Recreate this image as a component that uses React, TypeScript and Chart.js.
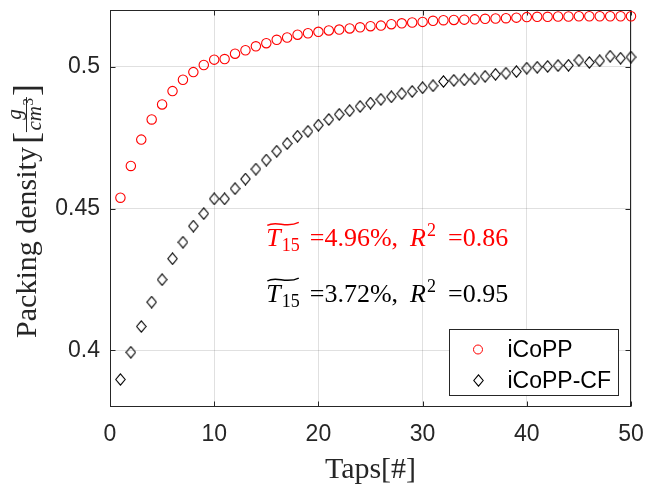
import React, { useEffect, useRef } from "react";
import { Chart, registerables } from "chart.js";
Chart.register(...registerables);

const taps = [1,2,3,4,5,6,7,8,9,10,11,12,13,14,15,16,17,18,19,20,21,22,23,24,25,26,27,28,29,30,31,32,33,34,35,36,37,38,39,40,41,42,43,44,45,46,47,48,49,50];
const icopp = [0.4538,0.4650,0.4743,0.4814,0.4867,0.4914,0.4954,0.4981,0.5006,0.5025,0.5027,0.5046,0.5058,0.5072,0.5083,0.5095,0.5103,0.5113,0.5118,0.5123,0.5128,0.5131,0.5135,0.5139,0.5143,0.5145,0.5150,0.5153,0.5156,0.5158,0.5162,0.5164,0.5165,0.5166,0.5167,0.5169,0.5170,0.5171,0.5173,0.5175,0.5176,0.5176,0.5177,0.5177,0.5178,0.5178,0.5178,0.5178,0.5178,0.5178];
const icoppCF = [0.3897,0.3993,0.4084,0.4170,0.4249,0.4323,0.4381,0.4438,0.4482,0.4534,0.4534,0.4570,0.4604,0.4639,0.4671,0.4702,0.4729,0.4755,0.4772,0.4794,0.4814,0.4832,0.4845,0.4860,0.4872,0.4885,0.4894,0.4905,0.4913,0.4926,0.4933,0.4948,0.4952,0.4954,0.4957,0.4966,0.4973,0.4977,0.4983,0.4995,0.4998,0.5001,0.5004,0.5005,0.5023,0.5015,0.5021,0.5037,0.5030,0.5034];
const xTicks = [0, 10, 20, 30, 40, 50];
const yTicks = [0.4, 0.45, 0.5];
const seriesNames = ["iCoPP", "iCoPP-CF"];
const t15Values = ["4.96", "3.72"];
const r2Values = ["0.86", "0.95"];

const AX = "#262626";
const SERIF = '"Liberation Serif", serif';
const SANS = '"Liberation Sans", Arial, sans-serif';

function makeDiamond(): HTMLCanvasElement {
  const c = document.createElement("canvas");
  c.width = 11;
  c.height = 13;
  const g = c.getContext("2d")!;
  g.strokeStyle = "#000";
  g.lineWidth = 1.1;
  g.beginPath();
  g.moveTo(5.5, 0.8);
  g.lineTo(10.2, 6.5);
  g.lineTo(5.5, 12.2);
  g.lineTo(0.8, 6.5);
  g.closePath();
  g.stroke();
  return c;
}

function drawAnnotation(ctx: CanvasRenderingContext2D, x: number, y: number, color: string, t: string, r2: string) {
  ctx.save();
  ctx.fillStyle = color;
  ctx.strokeStyle = color;
  ctx.textAlign = "left";
  ctx.textBaseline = "alphabetic";
  let cx = x;
  ctx.font = `italic 26px ${SERIF}`;
  ctx.fillText("T", cx, y);
  const tStart = cx;
  cx += ctx.measureText("T").width;
  ctx.font = `18px ${SERIF}`;
  ctx.fillText("15", cx + 1, y + 5);
  cx += ctx.measureText("15").width + 1;
  const tx0 = tStart + 1, tx1 = cx - 1, ty = y - 22;
  ctx.lineWidth = 1.4;
  ctx.beginPath();
  ctx.moveTo(tx0, ty + 1.5);
  ctx.bezierCurveTo(tx0 + (tx1 - tx0) * 0.3, ty - 4, tx0 + (tx1 - tx0) * 0.6, ty + 5, tx1, ty - 1.5);
  ctx.stroke();
  cx += 10;
  ctx.font = `26px ${SERIF}`;
  ctx.fillText("=", cx, y);
  cx += ctx.measureText("=").width;
  const s1 = `${t}%,`;
  ctx.fillText(s1, cx, y);
  cx += ctx.measureText(s1).width + 12;
  ctx.font = `italic 26px ${SERIF}`;
  ctx.fillText("R", cx, y);
  cx += ctx.measureText("R").width;
  ctx.font = `18px ${SERIF}`;
  ctx.fillText("2", cx + 1, y - 10);
  cx += ctx.measureText("2").width + 13;
  ctx.font = `26px ${SERIF}`;
  ctx.fillText("=", cx, y);
  cx += ctx.measureText("=").width;
  ctx.fillText(r2, cx, y);
  ctx.restore();
}

function drawYLabel(ctx: CanvasRenderingContext2D, bx: number, cy: number) {
  ctx.save();
  ctx.fillStyle = AX;
  ctx.strokeStyle = AX;
  ctx.textBaseline = "alphabetic";
  ctx.textAlign = "left";
  const main = "Packing density";
  ctx.font = `30px ${SERIF}`;
  const wMain = ctx.measureText(main).width;
  ctx.font = `36px ${SERIF}`;
  const wBr = ctx.measureText("[").width;
  ctx.font = `italic 21px ${SERIF}`;
  const wNum = ctx.measureText("g").width;
  const wCm = ctx.measureText("cm").width;
  ctx.font = `15px ${SERIF}`;
  const w3 = ctx.measureText("3").width;
  const wDen = wCm + w3;
  const fw = Math.max(wNum, wDen) + 3;
  const total = wMain + 3 + wBr + fw + 1 + wBr;
  ctx.translate(bx, cy);
  ctx.rotate(-Math.PI / 2);
  let x = -total / 2;
  ctx.font = `30px ${SERIF}`;
  ctx.fillText(main, x, 0);
  x += wMain + 3;
  ctx.font = `36px ${SERIF}`;
  ctx.fillText("[", x, 2);
  x += wBr;
  ctx.lineWidth = 1;
  ctx.beginPath();
  ctx.moveTo(x, -9.5);
  ctx.lineTo(x + fw, -9.5);
  ctx.stroke();
  ctx.font = `italic 21px ${SERIF}`;
  ctx.fillText("g", x + (fw - wNum) / 2, -15);
  const dx = x + (fw - wDen) / 2;
  ctx.fillText("cm", dx, 5);
  ctx.font = `15px ${SERIF}`;
  ctx.fillText("3", dx + wCm + 0.5, -3);
  x += fw + 1;
  ctx.font = `36px ${SERIF}`;
  ctx.fillText("]", x, 2);
  ctx.restore();
}

export default function App() {
  const ref = useRef<HTMLCanvasElement | null>(null);
  useEffect(() => {
    document.body.style.margin = "0";
    const canvas = ref.current!;
    const diamond = makeDiamond();

    const decor = {
      id: "decor",
      beforeDatasetsDraw(chart: any) {
        const { ctx, chartArea: a, scales } = chart;
        ctx.save();
        ctx.strokeStyle = AX;
        ctx.lineWidth = 1;
        const L = Math.round(a.left) + 0.5, R = Math.round(a.right) - 0.5;
        const T = Math.round(a.top) + 0.5, B = Math.round(a.bottom) - 0.5;
        ctx.strokeRect(L, T, R - L, B - T);
        ctx.beginPath();
        for (const v of xTicks) {
          const px = Math.round(scales.x.getPixelForValue(v)) + 0.5;
          ctx.moveTo(px, B); ctx.lineTo(px, B - 5);
          ctx.moveTo(px, T); ctx.lineTo(px, T + 5);
        }
        for (const v of yTicks) {
          const py = Math.round(scales.y.getPixelForValue(v)) + 0.5;
          ctx.moveTo(L, py); ctx.lineTo(L + 5, py);
          ctx.moveTo(R, py); ctx.lineTo(R - 5, py);
        }
        ctx.stroke();
        ctx.restore();
      },
      afterDatasetsDraw(chart: any) {
        const { ctx, chartArea: a, scales } = chart;
        const ax = scales.x.getPixelForValue(15);
        drawAnnotation(ctx, ax, scales.y.getPixelForValue(0.4368), "#ff0000", t15Values[0], r2Values[0]);
        drawAnnotation(ctx, ax, scales.y.getPixelForValue(0.4172), "#000000", t15Values[1], r2Values[1]);
        ctx.save();
        const bw = 169, bh = 66;
        const bx = Math.round(a.right - 13 - bw) + 0.5;
        const by = Math.round(a.bottom - 12 - bh) + 0.5;
        ctx.fillStyle = "#fff";
        ctx.fillRect(bx, by, bw, bh);
        ctx.strokeStyle = AX;
        ctx.lineWidth = 1;
        ctx.strokeRect(bx, by, bw, bh);
        const r1 = by + 20, r2 = by + 51;
        ctx.strokeStyle = "#ff0000";
        ctx.beginPath();
        ctx.arc(bx + 28.5, r1, 4.5, 0, Math.PI * 2);
        ctx.stroke();
        ctx.drawImage(diamond, Math.round(bx + 28.5 - diamond.width / 2), Math.round(r2 - diamond.height / 2));
        ctx.fillStyle = "#000";
        ctx.font = `23px ${SANS}`;
        ctx.textBaseline = "middle";
        ctx.textAlign = "left";
        ctx.fillText(seriesNames[0], bx + 58, r1 + 1);
        ctx.fillText(seriesNames[1], bx + 58, r2 + 1);
        ctx.restore();
      },
      afterDraw(chart: any) {
        const { ctx, chartArea: a } = chart;
        drawYLabel(ctx, 36, 211);
        ctx.save();
        ctx.fillStyle = AX;
        ctx.font = `30px ${SERIF}`;
        ctx.textAlign = "center";
        ctx.textBaseline = "alphabetic";
        ctx.fillText("Taps[#]", (a.left + a.right) / 2, 478);
        ctx.restore();
      },
    };

    const chart = new Chart(canvas, {
      type: "scatter",
      data: {
        labels: taps,
        datasets: [
          {
            label: seriesNames[0],
            data: taps.map((t, i) => ({ x: t, y: icopp[i] })),
            pointStyle: "circle",
            pointRadius: 4.7,
            pointBorderWidth: 1.1,
            borderColor: "#ff0000",
            backgroundColor: "rgba(0,0,0,0)",
            showLine: false,
            clip: false,
          } as any,
          {
            label: seriesNames[1],
            data: taps.map((t, i) => ({ x: t, y: icoppCF[i] })),
            pointStyle: diamond,
            pointRadius: 5,
            borderColor: "#000",
            backgroundColor: "rgba(0,0,0,0)",
            showLine: false,
            clip: false,
          } as any,
        ],
      },
      options: {
        responsive: false,
        animation: false,
        devicePixelRatio: 1,
        layout: { padding: { top: 10, right: 30, left: 0, bottom: 0 } },
        plugins: { legend: { display: false }, tooltip: { enabled: false } },
        scales: {
          x: {
            type: "linear",
            min: 0,
            max: 50,
            afterBuildTicks: (s: any) => { s.ticks = xTicks.map((v) => ({ value: v })); },
            afterFit: (s: any) => { s.height = 80; s.paddingLeft = 0; s.paddingRight = 0; },
            grid: { color: "rgba(38,38,38,0.14)", drawTicks: false, lineWidth: 1 },
            border: { display: false },
            ticks: {
              color: AX,
              padding: 14,
              maxRotation: 0,
              font: { family: SANS, size: 23 },
              callback: (v: any) => String(v),
            },
          },
          y: {
            type: "linear",
            min: 0.38,
            max: 0.52,
            afterBuildTicks: (s: any) => { s.ticks = yTicks.map((v) => ({ value: v })); },
            afterFit: (s: any) => { s.width = 110; s.paddingTop = 0; s.paddingBottom = 0; },
            grid: { color: "rgba(38,38,38,0.14)", drawTicks: false, lineWidth: 1 },
            border: { display: false },
            ticks: {
              color: AX,
              padding: 10,
              font: { family: SANS, size: 23 },
              callback: (v: any) => String(parseFloat(Number(v).toFixed(2))),
            },
          },
        },
      } as any,
      plugins: [decor],
    });
    return () => chart.destroy();
  }, []);
  return <canvas ref={ref} width={661} height={487} style={{ display: "block" }} />;
}
